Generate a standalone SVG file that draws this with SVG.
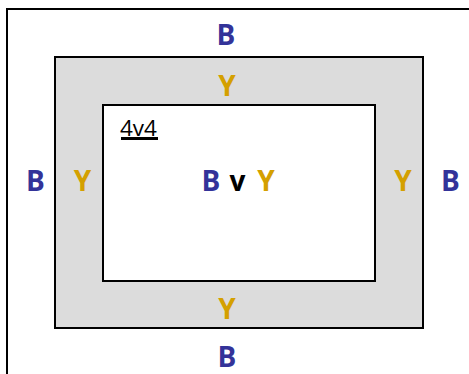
<svg xmlns="http://www.w3.org/2000/svg" width="469" height="374" viewBox="0 0 469 374">
<style>
.box{stroke:#000;stroke-width:2}
.b{fill:#333399;font-family:"Open Sans","Liberation Sans",sans-serif;font-weight:bold;font-size:28px;text-anchor:middle}
.y{fill:#d4a000;font-family:"Open Sans","Liberation Sans",sans-serif;font-weight:bold;font-size:28px;text-anchor:middle}
.k{fill:#000;font-family:"Open Sans","Liberation Sans",sans-serif;font-weight:bold;font-size:28px;text-anchor:middle}
.lbl{fill:#000;font-family:"Open Sans","Liberation Sans",sans-serif;font-size:22.5px}
</style>
<g id="outer">
<rect class="box" x="7" y="9" width="520" height="420" fill="#fff"/>
<text class="b" x="226" y="45">B</text>
<text class="b" x="35.5" y="191">B</text>
<text class="b" x="450.5" y="191">B</text>
<text class="b" x="227" y="367">B</text>
</g>
<g id="middle">
<rect class="box" x="55" y="57" width="368" height="271" fill="#dcdcdc"/>
<text class="y" x="227" y="96">Y</text>
<text class="y" x="82.5" y="191">Y</text>
<text class="y" x="403" y="191">Y</text>
<text class="y" x="227" y="319">Y</text>
</g>
<g id="inner">
<rect class="box" x="103" y="105" width="272" height="176" fill="#fff"/>
<text class="lbl" x="120" y="136">4v4</text>
<line x1="121" y1="138.5" x2="158" y2="138.5" stroke="#000" stroke-width="3"/>
<text class="b" x="211" y="191">B</text>
<text class="k" x="237.5" y="191">v</text>
<text class="y" x="266" y="191">Y</text>
</g>
<g id="connectors"/>
</svg>
